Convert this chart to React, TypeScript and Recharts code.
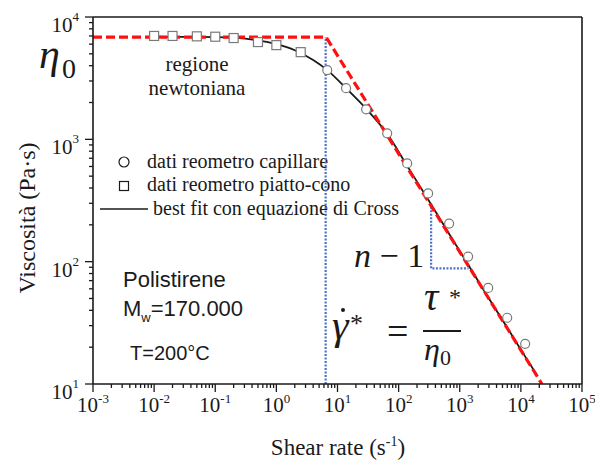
import React from 'react';
import {
  ComposedChart,
  XAxis,
  YAxis,
  Line,
  Scatter,
  ReferenceLine,
  Customized,
} from 'recharts';

// Capillary rheometer data (shear rate in 1/s, viscosity in Pa·s)
const capillaryRate = [6.8, 13.8, 29.4, 65, 138, 304, 670, 1370, 2920, 5970, 11750];
const capillaryViscosity = [3680, 2620, 1760, 1120, 635, 361, 205, 110, 61, 34.8, 21.3];

// Cone-plate rheometer data
const conePlateRate = [0.01, 0.02, 0.05, 0.1, 0.2, 0.5, 1, 2.5];
const conePlateViscosity = [7000, 7000, 6950, 6900, 6730, 6240, 5890, 5160];

// Cross equation best fit
const crossFitRate = [0.01, 0.03, 0.1, 0.2, 0.5, 1, 2, 4, 6.8, 14, 30, 65, 140, 300, 700, 1500, 3000, 6000, 12000, 18000];
const crossFitViscosity = [6900, 6880, 6850, 6780, 6450, 6000, 5350, 4450, 3680, 2600, 1760, 1110, 600, 325, 163, 88, 50, 28.8, 16.5, 12];

// Newtonian plateau + power-law asymptote
const asymptoteRate = [0.001, 6.5, 22100];
const asymptoteViscosity = [6850, 6850, 10];

// Critical shear rate marker
const criticalRate = [6.4, 6.4];
const criticalViscosity = [10, 6850];

// Slope triangle (n - 1)
const slopeRate = [340, 340, 1400];
const slopeViscosity = [300, 88, 88];

// Axis ticks
const xMajorTicks = [0.001, 0.01, 0.1, 1, 10, 100, 1000, 10000, 100000];
const xExponents = ['-3', '-2', '-1', '0', '1', '2', '3', '4', '5'];
const yMajorTicks = [10, 100, 1000, 10000];
const yExponents = ['1', '2', '3', '4'];
const minorMultipliers = [2, 3, 4, 5, 6, 7, 8, 9];

const withMinors = (majors: number[]) => {
  const all: number[] = [];
  majors.forEach((m, i) => {
    all.push(m);
    if (i < majors.length - 1) minorMultipliers.forEach((k) => all.push(+(m * k).toPrecision(6)));
  });
  return all;
};
const xTicks = withMinors(xMajorTicks);
const yTicks = withMinors(yMajorTicks);

const toPoints = (xs: number[], ys: number[]) => xs.map((x, i) => ({ x, y: ys[i] }));

const capillaryData = toPoints(capillaryRate, capillaryViscosity);
const conePlateData = toPoints(conePlateRate, conePlateViscosity);
const crossFitData = toPoints(crossFitRate, crossFitViscosity);
const asymptoteData = toPoints(asymptoteRate, asymptoteViscosity);
const criticalData = toPoints(criticalRate, criticalViscosity);
const slopeData = toPoints(slopeRate, slopeViscosity);

const INK = '#1a1a1a';
const SERIF = '"Liberation Serif", "Times New Roman", serif';
const SANS = '"Liberation Sans", Arial, sans-serif';
const RED = '#ff1010';
const BLUE = '#4a74c4';
const MARKER = '#7a7a7a';

const majorIndex = (v: number, majors: number[]) =>
  majors.findIndex((m) => Math.abs(Math.log10(m) - Math.log10(v)) < 1e-6);

const XTick = (props: any) => {
  const { x, y, payload } = props;
  const i = majorIndex(payload.value, xMajorTicks);
  const major = i >= 0;
  return (
    <g>
      <line x1={x} x2={x} y1={y} y2={y + (major ? 8 : 4)} stroke={INK} strokeWidth={1.3} />
      {major && (
        <text x={x} y={y + 28} textAnchor="middle" fontFamily={SERIF} fontSize={21} fill={INK}>
          10
          <tspan dy={-9} fontSize={13}>{xExponents[i]}</tspan>
        </text>
      )}
    </g>
  );
};

const YTick = (props: any) => {
  const { x, y, payload } = props;
  const i = majorIndex(payload.value, yMajorTicks);
  const major = i >= 0;
  return (
    <g>
      <line x1={x - (major ? 8 : 4)} x2={x} y1={y} y2={y} stroke={INK} strokeWidth={1.3} />
      {major && (
        <text x={x - 14} y={y + 15} textAnchor="end" fontFamily={SERIF} fontSize={21} fill={INK}>
          10
          <tspan dy={-11} fontSize={13}>{yExponents[i]}</tspan>
        </text>
      )}
    </g>
  );
};

const CircleMarker = (props: any) => (
  <circle cx={props.cx} cy={props.cy} r={4.5} fill="#fff" stroke={MARKER} strokeWidth={1.2} />
);

const SquareMarker = (props: any) => (
  <rect x={props.cx - 4.5} y={props.cy - 4.5} width={9} height={9} fill="#fff" stroke={MARKER} strokeWidth={1.2} />
);

const Annotations = () => (
  <g fill={INK}>
    {/* eta_0 */}
    <text x={39} y={68} fontFamily={SERIF} fontSize={42} fontStyle="italic">η</text>
    <text x={62} y={78} fontFamily={SERIF} fontSize={28}>0</text>

    <text x={197} y={71} textAnchor="middle" fontFamily={SERIF} fontSize={21}>regione</text>
    <text x={197} y={95} textAnchor="middle" fontFamily={SERIF} fontSize={21}>newtoniana</text>

    {/* legend */}
    <circle cx={124} cy={162} r={5} fill="#fff" stroke={INK} strokeWidth={1.2} />
    <text x={147} y={168} fontFamily={SERIF} fontSize={20}>dati reometro capillare</text>
    <rect x={119.5} y={181.5} width={9} height={9} fill="#fff" stroke={INK} strokeWidth={1.2} />
    <text x={147} y={191} fontFamily={SERIF} fontSize={20}>dati reometro piatto-cono</text>
    <line x1={100} x2={148} y1={209} y2={209} stroke={INK} strokeWidth={1.5} />
    <text x={153} y={215} fontFamily={SERIF} fontSize={20}>best fit con equazione di Cross</text>

    {/* material */}
    <text x={123} y={287} fontFamily={SANS} fontSize={22}>Polistirene</text>
    <text x={123} y={316} fontFamily={SANS} fontSize={22}>
      M<tspan fontSize={13} dy={6}>w</tspan>
      <tspan dy={-6}>=170.000</tspan>
    </text>
    <text x={130} y={360} fontFamily={SANS} fontSize={20}>T=200°C</text>

    {/* slope label */}
    <text x={354} y={267} fontFamily={SERIF} fontSize={34}>
      <tspan fontStyle="italic">n</tspan> − 1
    </text>

    {/* critical shear rate */}
    <text x={332} y={339} fontFamily={SERIF} fontSize={42} fontStyle="italic">γ</text>
    <circle cx={343} cy={310} r={2} fill={INK} />
    <text x={350} y={332} fontFamily={SERIF} fontSize={26}>*</text>
    <text x={387} y={344} fontFamily={SERIF} fontSize={38}>=</text>
    <text x={424} y={310} fontFamily={SERIF} fontSize={40} fontStyle="italic">τ</text>
    <text x={449} y={305} fontFamily={SERIF} fontSize={24}>*</text>
    <line x1={423} x2={461} y1={331} y2={331} stroke={INK} strokeWidth={2} />
    <text x={424} y={360} fontFamily={SERIF} fontSize={32} fontStyle="italic">η</text>
    <text x={440} y={365} fontFamily={SERIF} fontSize={22}>0</text>

    {/* axis titles */}
    <text x={338} y={455} textAnchor="middle" fontFamily={SERIF} fontSize={23}>
      Shear rate (s<tspan fontSize={14} dy={-9}>-1</tspan>
      <tspan dy={9}>)</tspan>
    </text>
    <text
      x={0}
      y={0}
      transform="translate(35, 218) rotate(-90)"
      textAnchor="middle"
      fontFamily={SERIF}
      fontSize={24}
    >
      Viscosità (Pa·s)
    </text>
  </g>
);

export default function App() {
  return (
    <div style={{ position: 'fixed', left: 0, top: 0, width: 595, height: 466, background: '#fff' }}>
      <ComposedChart width={595} height={466} margin={{ top: 17, right: 13, bottom: 42, left: 33 }}>
        <XAxis
          type="number"
          dataKey="x"
          scale="log"
          domain={[0.001, 100000]}
          allowDataOverflow
          ticks={xTicks}
          interval={0}
          tickSize={0}
          tickMargin={0}
          tickLine={false}
          tick={<XTick />}
          axisLine={{ stroke: INK, strokeWidth: 1.6 }}
          height={40}
        />
        <YAxis
          type="number"
          dataKey="y"
          scale="log"
          domain={[10, 10000]}
          allowDataOverflow
          ticks={yTicks}
          interval={0}
          tickSize={0}
          tickMargin={0}
          tickLine={false}
          tick={<YTick />}
          axisLine={{ stroke: INK, strokeWidth: 1.6 }}
          width={60}
        />
        <ReferenceLine y={10000} stroke={INK} strokeWidth={1.6} />
        <ReferenceLine x={100000} stroke={INK} strokeWidth={1.6} />

        <Scatter data={conePlateData} shape={<SquareMarker />} isAnimationActive={false} />
        <Scatter data={capillaryData} shape={<CircleMarker />} isAnimationActive={false} />

        <Line data={criticalData} dataKey="y" type="linear" stroke={BLUE} strokeWidth={2.2} strokeDasharray="2 1.5" dot={false} isAnimationActive={false} />
        <Line data={slopeData} dataKey="y" type="linear" stroke={BLUE} strokeWidth={2.2} strokeDasharray="2 1.5" dot={false} isAnimationActive={false} />
        <Line data={crossFitData} dataKey="y" type="monotone" stroke={INK} strokeWidth={1.8} dot={false} isAnimationActive={false} />
        <Line data={asymptoteData} dataKey="y" type="linear" stroke={RED} strokeWidth={3.2} strokeDasharray="9 4" dot={false} isAnimationActive={false} />

        <Customized component={Annotations} />
      </ComposedChart>
    </div>
  );
}
